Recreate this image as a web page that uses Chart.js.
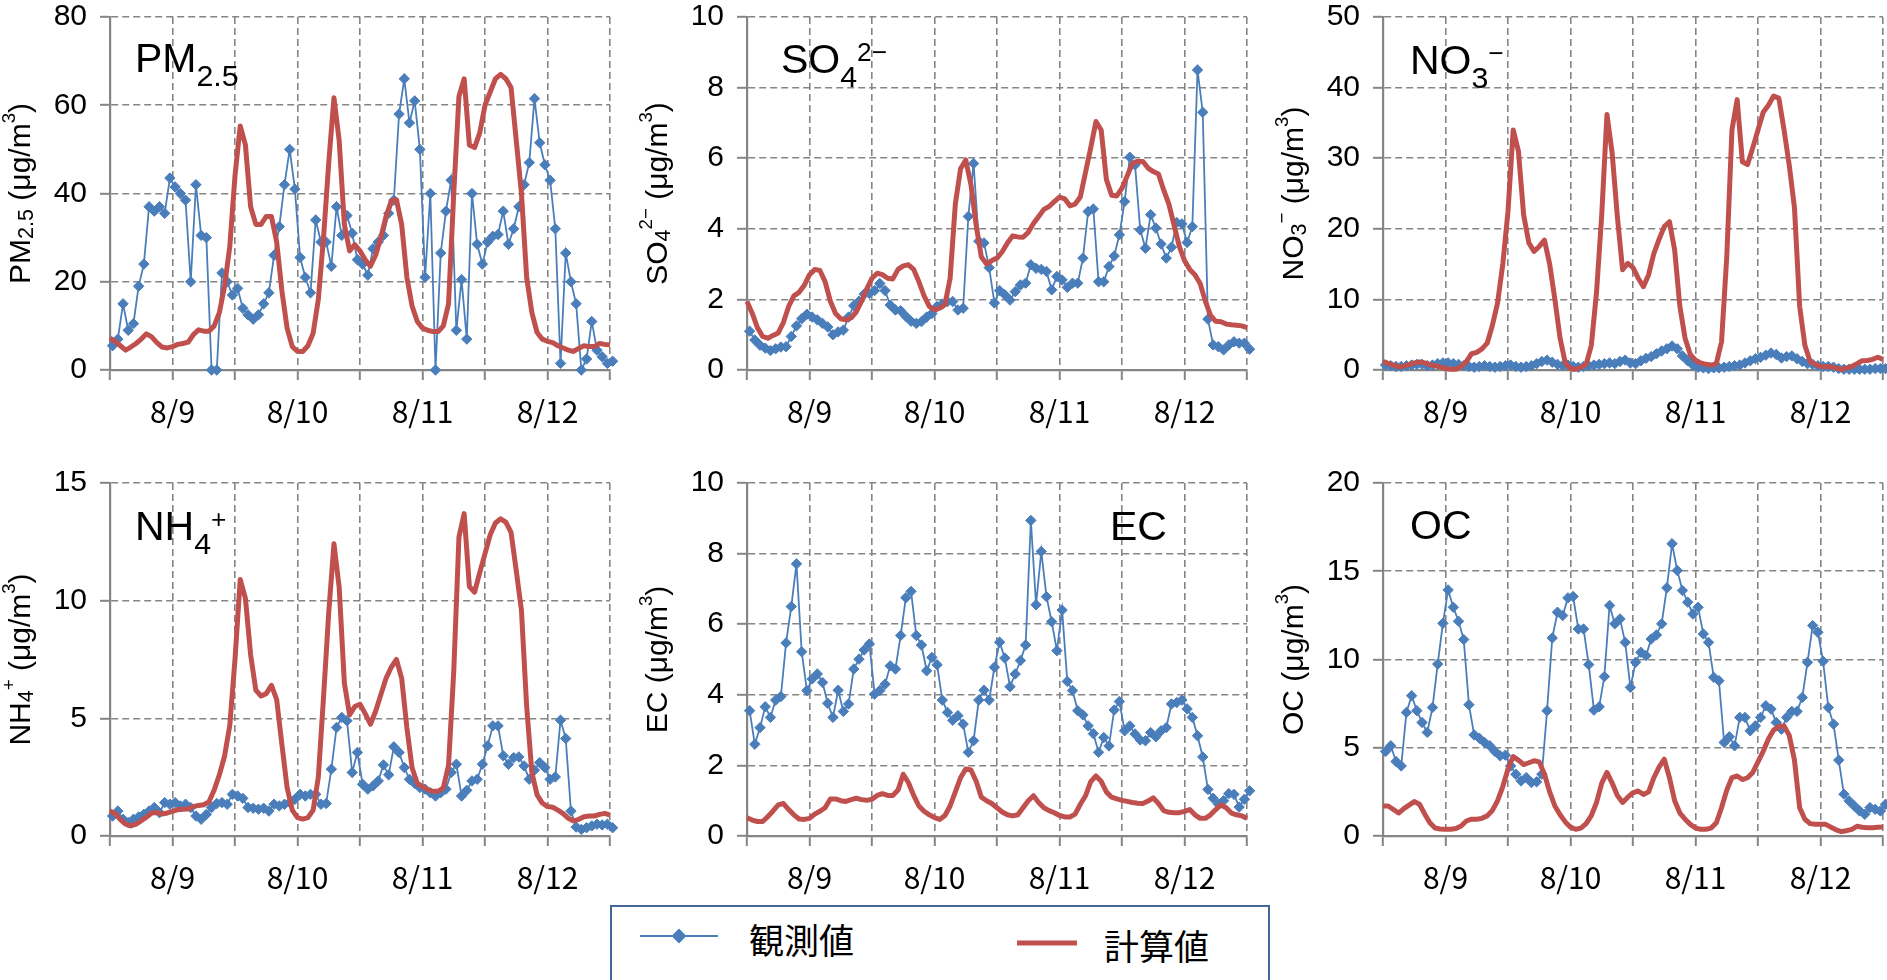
<!DOCTYPE html>
<html lang="ja">
<head>
<meta charset="utf-8">
<title>観測値と計算値</title>
<script src="https://cdn.jsdelivr.net/npm/chart.js@4.4.1/dist/chart.umd.min.js"></script>
<style>
  html, body { margin:0; padding:0; background:#ffffff; }
  body { width:1887px; height:980px; position:relative; overflow:hidden; }
  .panel { position:absolute; width:630px; height:450px; }
  .panel canvas { display:block; }
  #legend { position:absolute; left:610px; top:905px; width:660px; height:78px; box-sizing:border-box; border:2px solid #44679b; background:#fff; }
  .lg-text { position:absolute; font-family:"Noto Sans CJK JP"; font-size:35px; line-height:1; color:#000; white-space:nowrap; }
</style>
</head>
<body>
<div id="legend">
  <svg width="660" height="78" style="position:absolute;left:-2px;top:-2px">
    <line x1="30" y1="31" x2="108" y2="31" stroke="#4a7ebb" stroke-width="2"/>
    <polygon points="69,23.5 76.5,31 69,38.5 61.5,31" fill="#4a7ebb"/>
    <line x1="407" y1="38" x2="467" y2="38" stroke="#c0504d" stroke-width="5"/>
  </svg>
  <span class="lg-text" style="left:137px;top:14px">観測値</span>
  <span class="lg-text" style="left:492px;top:20px">計算値</span>
</div>
<script>
// ---------- data ----------
// hours since 8/8 12:00 (hourly)
const hours = Array.from({length: 97}, (_, i) => i);
const xTickLabels = ['', '8/9', '', '8/10', '', '8/11', '', '8/12', ''];

const pm25Obs = [5.5,7,15,9,10.5,19,24,37,36,37,35.5,43.5,41.5,40,38.5,20,42,30.5,30,0,0,22,20,17,18.5,14,12.5,11.5,12.5,15,17.5,26,32.5,42,50,41,25.5,21,17.5,34,29,29,23.5,37,30.5,35,31,25,24,21.5,27.5,29,30.5,35.5,38.5,58,66,56,61,50,21,40,0,26.5,36,43,9,20.5,7,40,28.5,24,29,30.3,30.7,36,28.5,32,37,42,47,61.5,51.5,46.5,43,32,1.5,26.5,20,15,0,2.5,11,4.5,3,1.5,2];
const pm25Calc = [7.2,6.5,5.5,4.5,5.2,6,7,8.2,7.5,6.2,5.2,5,5.3,5.8,6,6.3,8,9.1,8.8,8.8,10,13,19,28,44,55.3,51,37,33,33,34.8,34.8,29,18,9.5,5.3,4.2,4.2,5.5,8.3,16,30,47,61.7,52,33,27,28.4,27,25,23.5,26,30,34.8,38.3,38.6,33,21,14.5,11,9.5,9,8.7,8.7,10,15,40,62,66,51,50.4,53.8,60,63,66,67,66,64,52,40,21,13,8.5,7,6.5,6.2,5.5,5,4.5,4.2,4.9,5.5,5.3,5.3,6,5.8,5.7];

const so4Obs = [1.1,0.85,0.7,0.62,0.55,0.6,0.65,0.66,0.95,1.25,1.45,1.58,1.5,1.42,1.32,1.22,1.0,1.08,1.13,1.5,1.82,1.95,2.15,2.17,2.25,2.45,2.25,1.84,1.7,1.68,1.52,1.38,1.32,1.37,1.5,1.6,1.8,1.87,1.94,1.94,1.7,1.75,4.35,5.85,3.65,3.6,2.9,1.9,2.25,2.13,1.98,2.22,2.41,2.46,2.98,2.88,2.85,2.79,2.27,2.65,2.55,2.34,2.46,2.46,3.17,4.49,4.56,2.5,2.5,2.93,3.23,3.83,4.77,6.03,5.81,3.97,3.45,4.4,4.02,3.57,3.17,3.48,4.18,4.14,3.61,4.06,8.5,7.3,1.44,0.71,0.66,0.57,0.71,0.8,0.76,0.76,0.59];
const so4Calc = [1.94,1.61,1.2,0.95,0.9,0.98,1.05,1.35,1.8,2.1,2.2,2.4,2.7,2.85,2.82,2.5,1.95,1.6,1.45,1.42,1.48,1.65,1.95,2.3,2.6,2.74,2.7,2.6,2.58,2.85,2.95,2.98,2.85,2.5,2.1,1.8,1.7,1.75,1.85,2.6,4.7,5.7,5.95,5.25,4.1,3.2,3.0,3.1,3.17,3.35,3.6,3.8,3.77,3.76,3.9,4.15,4.35,4.55,4.63,4.77,4.9,4.85,4.65,4.7,4.9,5.6,6.3,7.04,6.8,5.4,4.95,4.93,5.15,5.5,5.85,5.91,5.91,5.72,5.62,5.55,5.1,4.7,4.1,3.5,3.1,2.85,2.7,2.45,1.95,1.55,1.38,1.37,1.3,1.28,1.27,1.25,1.2];

const no3Obs = [0.7,0.6,0.5,0.5,0.6,0.7,0.8,0.8,0.6,0.7,0.9,1.0,1.0,0.9,0.8,0.6,0.5,0.4,0.5,0.6,0.5,0.4,0.5,0.6,0.7,0.5,0.4,0.5,0.6,0.9,1.2,1.4,1.1,0.8,0.6,0.7,0.5,0.4,0.5,0.6,0.7,0.8,0.9,1.0,0.9,1.2,1.4,1.0,0.9,1.3,1.65,1.9,2.3,2.7,3.0,3.4,3.0,2.0,1.3,0.7,0.4,0.3,0.2,0.3,0.3,0.4,0.5,0.6,0.7,1.0,1.3,1.6,1.8,2.1,2.4,2.2,1.7,1.9,2.0,1.6,1.2,0.9,0.8,0.6,0.5,0.5,0.4,0.2,0.1,0.1,0.1,0.1,0.1,0.1,0.2,0.2,0.2];
const no3Calc = [1.2,0.95,0.7,0.45,0.55,0.75,1.0,1.15,1.0,0.75,0.6,0.45,0.2,0.1,0.1,0.5,1.2,2.3,2.5,3.0,3.8,6.3,9.5,15,22.5,34,31,22,18,16.8,17.5,18.4,15,10,4.5,1,0.2,0.1,0.4,0.8,3.5,11,22,36.2,30.7,21.7,14.2,15.1,14.5,13,11.8,13.5,16.5,18.5,20.3,21,17,9,4.5,2.2,1.4,1.0,0.8,0.7,0.9,4,16,34,38.3,29.5,29.1,31.5,34,36.5,37.5,38.8,38.5,34,29,23,9,3.5,1.2,0.8,0.5,0.5,0.45,0.3,0.05,0.3,0.5,0.9,1.3,1.35,1.5,1.8,1.5];

const nh4Obs = [0.85,1.06,0.71,0.57,0.71,0.81,0.92,1.06,1.21,0.99,1.42,1.35,1.42,1.28,1.35,1.21,0.85,0.71,0.92,1.21,1.38,1.42,1.35,1.77,1.7,1.6,1.21,1.18,1.14,1.18,1.06,1.35,1.28,1.35,1.42,1.56,1.77,1.7,1.77,1.77,1.35,1.38,2.84,4.61,5.04,4.9,2.7,3.55,2.2,1.99,2.13,2.34,3.02,2.6,3.79,3.55,2.91,2.41,2.23,2.06,1.99,1.84,1.7,1.84,1.99,2.7,3.05,1.7,1.94,2.34,2.41,3.05,3.83,4.68,4.68,3.41,3.05,3.33,3.36,2.98,2.41,2.8,3.12,2.91,2.41,2.51,4.92,4.14,1.06,0.38,0.28,0.35,0.43,0.5,0.47,0.5,0.35];
const nh4Calc = [1.06,0.95,0.7,0.5,0.43,0.5,0.65,0.8,0.98,1.0,0.93,0.98,1.05,1.12,1.14,1.15,1.25,1.3,1.33,1.45,1.95,2.6,3.4,4.7,7.5,10.9,10.1,7.7,6.2,5.95,6.05,6.4,5.8,3.9,2.06,1.1,0.78,0.72,0.78,1.1,2.5,5.9,9.5,12.42,10.57,6.5,5.15,5.5,5.6,5.2,4.75,5.3,6.0,6.7,7.17,7.5,6.7,4.6,2.9,2.23,2.1,1.97,1.9,1.9,2.05,3.0,7.0,12.7,13.7,10.6,10.36,11.2,12.0,12.8,13.3,13.48,13.34,12.9,11.28,9.58,5.5,2.7,1.75,1.4,1.25,1.22,1.1,0.95,0.75,0.64,0.71,0.82,0.85,0.85,0.92,0.96,0.89];

const ecObs = [3.55,2.6,3.07,3.66,3.36,3.85,3.95,5.47,6.5,7.71,5.22,4.12,4.45,4.59,4.35,3.76,3.36,4.13,3.53,3.74,4.73,5.01,5.27,5.44,4.02,4.12,4.3,4.82,4.73,5.68,6.75,6.93,5.68,5.41,4.68,5.06,4.85,3.85,3.5,3.28,3.41,3.17,2.37,2.7,3.85,4.13,3.85,4.78,5.49,5.04,4.23,4.59,4.97,5.41,8.94,6.55,8.06,6.78,6.07,5.25,6.4,4.38,4.12,3.55,3.43,3.12,2.9,2.37,2.79,2.55,3.57,3.81,2.98,3.12,2.89,2.72,2.7,2.93,2.81,2.98,3.07,3.74,3.78,3.85,3.6,3.36,2.84,2.24,1.32,1.07,0.9,1.0,1.2,1.18,0.82,1.04,1.28];
const ecCalc = [0.52,0.45,0.41,0.41,0.55,0.71,0.88,0.92,0.75,0.6,0.48,0.47,0.5,0.62,0.7,0.8,1.05,1.05,1.0,0.98,1.03,1.07,1.03,1.01,1.04,1.15,1.2,1.15,1.15,1.3,1.75,1.51,1.15,0.85,0.7,0.6,0.52,0.47,0.58,0.85,1.25,1.65,1.9,1.87,1.55,1.1,1.0,0.92,0.8,0.68,0.6,0.57,0.6,0.8,1.0,1.14,0.95,0.8,0.72,0.66,0.58,0.54,0.54,0.62,0.9,1.14,1.54,1.7,1.55,1.25,1.1,1.05,1.01,0.98,0.95,0.93,0.92,0.99,1.08,0.92,0.72,0.67,0.66,0.66,0.7,0.75,0.6,0.5,0.5,0.6,0.75,0.88,0.8,0.65,0.6,0.57,0.5];

const ocObs = [4.79,5.11,4.22,3.97,7.0,7.95,7.1,6.43,5.87,7.28,9.74,12.05,13.94,12.96,12.17,11.13,7.44,5.73,5.54,5.3,5.11,4.79,4.54,4.58,3.97,3.5,3.12,3.31,3.03,3.07,3.5,7.1,11.22,12.68,12.49,13.49,13.57,11.73,11.73,9.71,7.13,7.32,9.03,13.06,12.02,12.3,10.97,8.42,9.84,10.41,10.22,11.16,11.39,12.02,14.06,16.56,15.04,13.91,13.25,12.58,12.96,11.45,10.97,8.99,8.8,5.3,5.62,5.11,6.72,6.72,5.96,6.24,6.72,7.38,7.19,6.43,6.05,6.72,7.06,7.06,7.85,9.84,11.92,11.54,9.9,7.28,6.34,4.3,2.37,1.99,1.7,1.42,1.23,1.61,1.51,1.42,1.8];
const ocCalc = [1.7,1.7,1.5,1.3,1.55,1.75,1.95,1.8,1.25,0.75,0.45,0.4,0.38,0.38,0.42,0.57,0.85,0.95,0.95,1.0,1.14,1.45,2.0,2.8,3.8,4.5,4.3,4.05,4.15,4.26,4.2,3.5,2.5,1.7,1.2,0.8,0.5,0.38,0.45,0.7,1.15,1.9,3.0,3.6,3.0,2.3,1.9,2.2,2.45,2.55,2.35,2.5,3.3,3.9,4.35,3.3,2.0,1.3,0.95,0.66,0.45,0.38,0.38,0.45,0.75,1.6,2.6,3.31,3.4,3.2,3.3,3.6,4.2,4.8,5.5,6.0,6.2,6.24,5.7,4.3,1.6,0.95,0.7,0.66,0.66,0.66,0.5,0.35,0.25,0.3,0.38,0.55,0.5,0.47,0.47,0.5,0.51];

const seriesNames = ['観測値', '計算値'];

// ---------- panel texts & layout ----------
const unitParts = [[' (μg/m'], ['3', 'sup'], [')']];
const panels = [
  { obs: pm25Obs, calc: pm25Calc, yMax: 80, yStep: 20, left: 110, top: 17,
    name: [['PM'], ['2.5', 'sub']], nameDx: 25, nameDy: 55 },
  { obs: so4Obs, calc: so4Calc, yMax: 10, yStep: 2, left: 747, top: 17,
    name: [['SO'], ['4', 'sub'], ['2−', 'sup']], nameDx: 34, nameDy: 56 },
  { obs: no3Obs, calc: no3Calc, yMax: 50, yStep: 10, left: 1383, top: 17,
    name: [['NO'], ['3', 'sub'], ['−', 'sup']], nameDx: 27, nameDy: 57 },
  { obs: nh4Obs, calc: nh4Calc, yMax: 15, yStep: 5, left: 110, top: 483,
    name: [['NH'], ['4', 'sub'], ['+', 'sup']], nameDx: 25, nameDy: 57 },
  { obs: ecObs, calc: ecCalc, yMax: 10, yStep: 2, left: 747, top: 483,
    name: [['EC']], nameDx: 363, nameDy: 57 },
  { obs: ocObs, calc: ocCalc, yMax: 20, yStep: 5, left: 1383, top: 483,
    name: [['OC']], nameDx: 27, nameDy: 56 }
];

const BLUE = '#4a7ebb', RED = '#c0504d', GRID = '#858585';
const AXIS_W = 120, PAD_T = 30, PAD_R = 10, XAXIS_H = 67;
const OBS_SHIFT = 0.5;   // observed values plotted at mid-hour
const FONT_LATIN = '"Liberation Sans", Arial, sans-serif';
const FONT_JP = '"Noto Sans CJK JP", sans-serif';

function drawRich(ctx, parts, x, y, size, fam, sub, sup, measureOnly) {
  let cx = x;
  for (const [t, kind] of parts) {
    let s = size, dy = 0;
    if (kind === 'sub') { s = size * sub[0]; dy = size * sub[1]; }
    if (kind === 'sup') { s = size * sup[0]; dy = -size * sup[1]; }
    ctx.font = s + 'px ' + fam;
    if (!measureOnly) ctx.fillText(t, cx, y + dy);
    cx += ctx.measureText(t).width;
  }
  return cx - x;
}

function textPlugin(p) {
  return {
    id: 'panelTexts',
    afterDraw(chart) {
      const ctx = chart.ctx, a = chart.chartArea;
      ctx.save();
      ctx.fillStyle = '#000';
      ctx.textBaseline = 'alphabetic';
      ctx.textAlign = 'left';
      // big in-panel name
      drawRich(ctx, p.name, a.left + p.nameDx, a.top + p.nameDy, 41, FONT_LATIN, [0.74, 0.34], [0.64, 0.3]);
      // rotated axis title
      const title = p.name.map(x => x.slice()).concat(unitParts);
      const tSub = [0.72, 0.1], tSup = [0.62, 0.5];
      const w = drawRich(ctx, title, 0, 0, 30, FONT_LATIN, tSub, tSup, true);
      ctx.translate(a.left - 80, (a.top + a.bottom) / 2);
      ctx.rotate(-Math.PI / 2);
      drawRich(ctx, title, -w / 2, 0, 30, FONT_LATIN, tSub, tSup);
      ctx.restore();
    }
  };
}

function fixFit(axis) {
  return function (s) {
    if (axis === 'y') s.width = AXIS_W; else s.height = XAXIS_H;
    s.paddingTop = 0; s.paddingBottom = 0; s.paddingLeft = 0; s.paddingRight = 0;
  };
}

panels.forEach(p => {
  const div = document.createElement('div');
  div.className = 'panel';
  div.style.left = (p.left - AXIS_W) + 'px';
  div.style.top = (p.top - PAD_T) + 'px';
  const cv = document.createElement('canvas');
  cv.width = 630; cv.height = 450;
  div.appendChild(cv);
  document.body.appendChild(div);

  new Chart(cv, {
    type: 'line',
    data: {
      datasets: [
        { label: seriesNames[1], data: p.calc.map((v, i) => ({ x: hours[i], y: v })),
          borderColor: RED, backgroundColor: RED, borderWidth: 5, pointRadius: 0,
          tension: 0, order: 0, clip: false, borderJoinStyle: 'round' },
        { label: seriesNames[0], data: p.obs.map((v, i) => ({ x: hours[i] + OBS_SHIFT, y: v })),
          borderColor: BLUE, backgroundColor: BLUE, borderWidth: 1.8,
          pointStyle: 'rectRot', pointRadius: 5.2, pointBorderWidth: 1,
          pointBackgroundColor: BLUE, pointBorderColor: BLUE,
          tension: 0, order: 1, clip: false }
      ]
    },
    options: {
      responsive: false, animation: false, events: [],
      layout: { padding: { left: 0, top: PAD_T, right: PAD_R, bottom: 0 } },
      plugins: { legend: { display: false }, tooltip: { enabled: false } },
      scales: {
        x: {
          type: 'linear', min: 0, max: 96, afterFit: fixFit('x'),
          ticks: { stepSize: 12, autoSkip: false, maxRotation: 0, padding: 14, color: '#000',
                   font: { family: FONT_JP, size: 30 },
                   callback: v => xTickLabels[Math.round(v / 12)] },
          grid: { color: GRID, lineWidth: 1.6, drawTicks: true, tickLength: 10, tickColor: GRID, tickWidth: 2 },
          border: { display: true, color: GRID, width: 2.2, dash: [7, 4] }
        },
        y: {
          min: 0, max: p.yMax, afterFit: fixFit('y'),
          ticks: { stepSize: p.yStep, padding: 13, color: '#000',
                   font: { family: FONT_LATIN, size: 30 } },
          grid: { color: GRID, lineWidth: 1.6, drawTicks: true, tickLength: 10, tickColor: GRID, tickWidth: 2 },
          border: { display: true, color: GRID, width: 2.2, dash: [7, 4] }
        }
      }
    },
    plugins: [textPlugin(p)]
  });
});
</script>
</body>
</html>
